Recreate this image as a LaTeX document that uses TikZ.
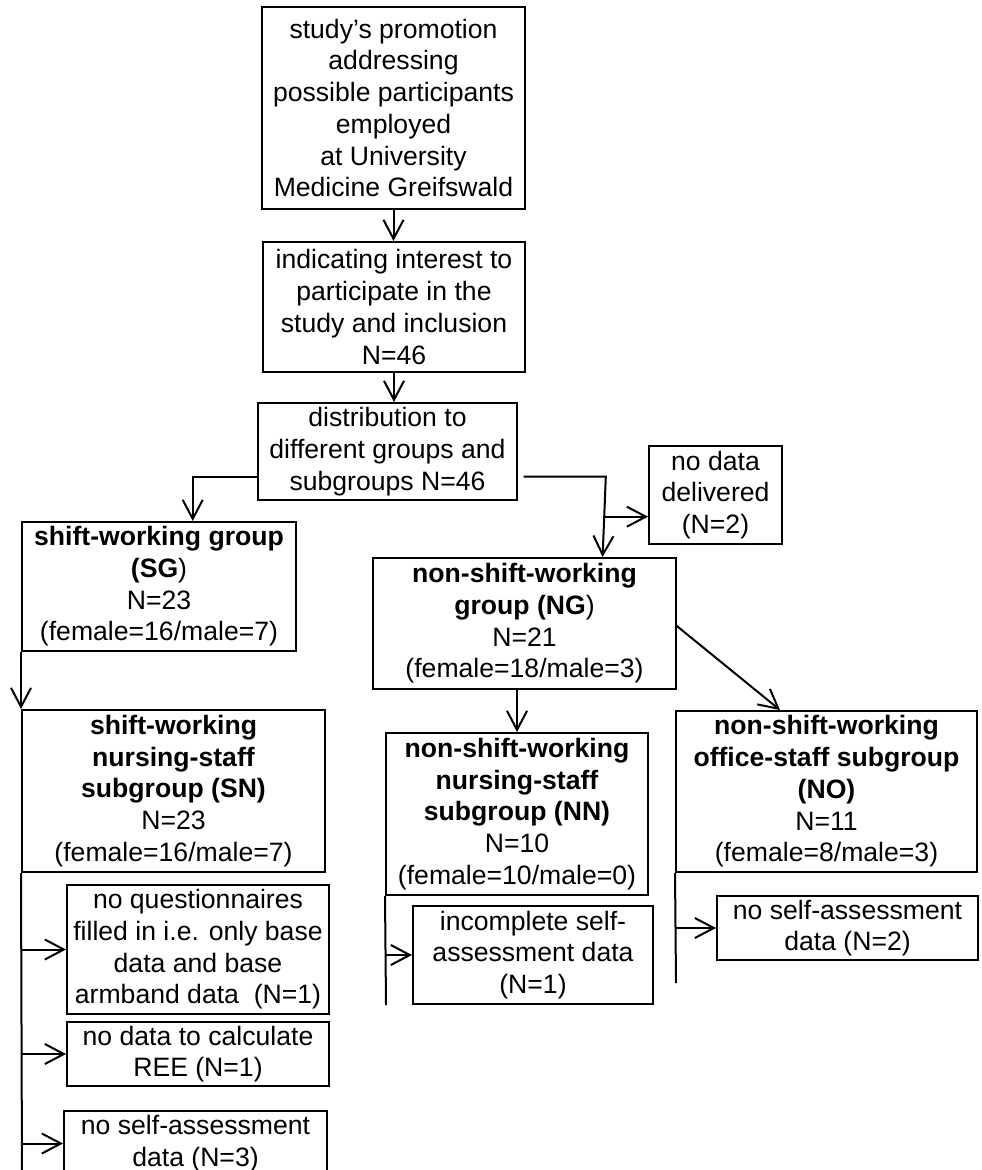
\documentclass[tikz,border=0pt]{standalone}
\usepackage{fontspec}
\setmainfont{Liberation Sans}
\usetikzlibrary{arrows.meta}
\begin{document}
\begin{tikzpicture}[x=0.5pt,y=-0.5pt,
  box/.style={draw, line width=1pt, align=center, inner sep=0pt, font=\fontsize{13.3}{15.85}\selectfont},
  arr/.style={line width=1pt, -{Straight Barb[length=9.5pt,width=10pt,line width=1pt]}},
  ln/.style={line width=1pt}]
\useasboundingbox (0,0) rectangle (981,1170);

\node[box, minimum width=131.5pt, minimum height=101pt] (b1) at (393.5,108)
  {study’s promotion\\addressing\\possible participants\\employed\\at University\\Medicine Greifswald};
\node[box, minimum width=131pt, minimum height=65pt] (b2) at (394,307)
  {indicating interest to\\participate in the\\study and inclusion\\N=46};
\node[box, minimum width=129.5pt, minimum height=48.5pt] (b3) at (387.5,451.5)
  {distribution to\\different groups and\\subgroups N=46};
\node[box, minimum width=137pt, minimum height=64.5pt] (sg) at (159,586.5)
  {\textbf{shift-working group}\\\textbf{(SG})\\N=23\\(female=16/male=7)};
\node[box, minimum width=66.5pt, minimum height=49pt] (nd) at (715.5,495)
  {no data\\delivered\\(N=2)};
\node[box, minimum width=151.5pt, minimum height=65.5pt] (ng) at (524.5,623.5)
  {\textbf{non-shift-working}\\\textbf{group (NG})\\N=21\\(female=18/male=3)};
\node[box, minimum width=151.5pt, minimum height=81pt] (sn) at (173.5,791)
  {\textbf{shift-working}\\\textbf{nursing-staff}\\\textbf{subgroup (SN)}\\N=23\\(female=16/male=7)};
\node[box, minimum width=131pt, minimum height=81pt] (nn) at (517,814)
  {\textbf{non-shift-working}\\\textbf{nursing-staff}\\\textbf{subgroup (NN)}\\N=10\\(female=10/male=0)};
\node[box, minimum width=150.5pt, minimum height=80.5pt] (no) at (826.5,791.5)
  {\textbf{non-shift-working}\\\textbf{office-staff subgroup}\\\textbf{(NO)}\\N=11\\(female=8/male=3)};
\node[box, minimum width=131pt, minimum height=64.5pt] (noq) at (198,949.5)
  {no questionnaires\\filled in i.e. only base\\data and base\\armband data\ \ (N=1)};
\node[box, minimum width=131pt, minimum height=32pt] (ree) at (198,1054)
  {no data to calculate\\REE (N=1)};
\node[box, minimum width=131.5pt, minimum height=32.5pt] (sa3) at (195.5,1143.5)
  {no self-assessment\\data (N=3)};
\node[box, minimum width=120pt, minimum height=49pt] (inc) at (533,955)
  {incomplete self-\\assessment data\\(N=1)};
\node[box, minimum width=130.5pt, minimum height=32pt] (sa2) at (847.5,928)
  {no self-assessment\\data (N=2)};

% top chain
\draw[arr] (b1.south) -- (b1.south |- b2.north);
\draw[arr] (b2.south) -- (b2.south |- b3.north);
% to SG
\coordinate (j1) at (192.7,476.7);
\draw[arr] (b3.west |- j1) -- (j1) -- (j1 |- sg.north);
% to NG
\coordinate (j0) at (523.7,476.7);
\coordinate (j2) at (605.8,476.7);
\coordinate (j3) at (602.6,0);
\draw[arr] (j0) -- (j2) -- (j3 |- ng.north);
\coordinate (j4) at (605.3,516.7);
\draw[arr] (j4) -- (j4 -| nd.west);
% NG to subgroups
\draw[arr] (nn.north |- ng.south) -- (nn.north);
\coordinate (j5) at (675.6,625);
\coordinate (j6) at (780,0);
\draw[arr] (j5) -- (j6 |- no.north);
% SG spine
\draw[arr] (sg.south west) -- (sn.north west);
\coordinate (e1) at (22,1176);
\draw[ln] (sn.south west) -- (e1);
\draw[arr] (noq.west -| e1) -- (noq.west);
\draw[arr] (ree.west -| e1) -- (ree.west);
\draw[arr] (sa3.west -| e1) -- (sa3.west);
% NN spine
\coordinate (e2) at (386,1005);
\draw[ln] (nn.south west) -- (e2);
\draw[arr] (inc.west -| e2) -- (inc.west);
% NO spine
\coordinate (e3) at (676,983);
\draw[ln] (no.south west) -- (e3);
\draw[arr] (sa2.west -| e3) -- (sa2.west);
\end{tikzpicture}
\end{document}
